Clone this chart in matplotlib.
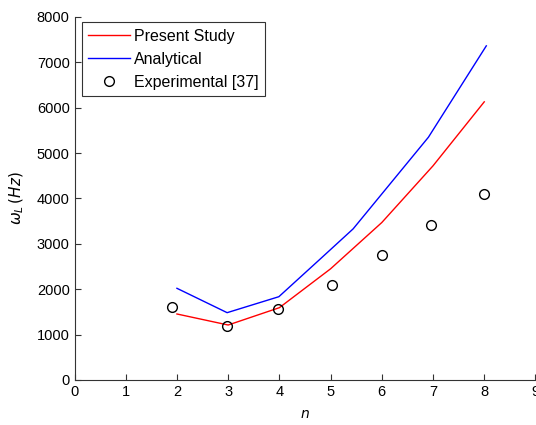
import matplotlib
matplotlib.use('Agg')
import matplotlib.pyplot as plt

# values
n_present = [2, 3, 4, 5, 6, 7, 8]
w_present = [1454, 1211, 1593, 2450, 3470, 4720, 6130]

n_analytical = [2.0, 2.98, 3.99, 4.79, 5.44, 6.91, 8.04]
w_analytical = [2020, 1483, 1835, 2658, 3330, 5350, 7364]

n_exp = [1.9, 2.98, 3.97, 5.02, 6.0, 6.96, 8.0]
w_exp = [1600, 1196, 1571, 2100, 2760, 3414, 4104]

plt.rcParams['font.family'] = ['Liberation Sans', 'DejaVu Sans']

fig = plt.figure(figsize=(5.36, 4.25), dpi=100)
ax = fig.add_axes([0.139, 0.106, 0.86, 0.854])

ax.plot(n_present, w_present, color='red', lw=1.0, label='Present Study')
ax.plot(n_analytical, w_analytical, color='blue', lw=1.0, label='Analytical')
ax.plot(n_exp, w_exp, 'o', mfc='none', mec='black', mew=1.0, ms=7,
        label='Experimental [37]')

ax.set_xlim(0, 9)
ax.set_ylim(0, 8000)
ax.set_xticks(range(0, 10))
ax.set_yticks(range(0, 8001, 1000))
ax.tick_params(direction='in', length=4, labelsize=10.5, color='#333333')
ax.spines['top'].set_visible(False)
ax.spines['right'].set_visible(False)
for s in ['left', 'bottom']:
    ax.spines[s].set_color('#333333')

ax.set_xlabel('$n$', fontsize=10, labelpad=6)
ax.set_ylabel(r'$\omega_L\,(Hz)$', fontsize=11, labelpad=8)

leg = ax.legend(loc='upper left', bbox_to_anchor=(0.016, 0.985), fontsize=11.5,
                frameon=True, fancybox=False, handlelength=2.6, handletextpad=0.25,
                borderpad=0.4, labelspacing=0.5, borderaxespad=0)
leg.get_frame().set_edgecolor('black')
leg.get_frame().set_linewidth(0.8)

fig.savefig('out.png', dpi=100)
